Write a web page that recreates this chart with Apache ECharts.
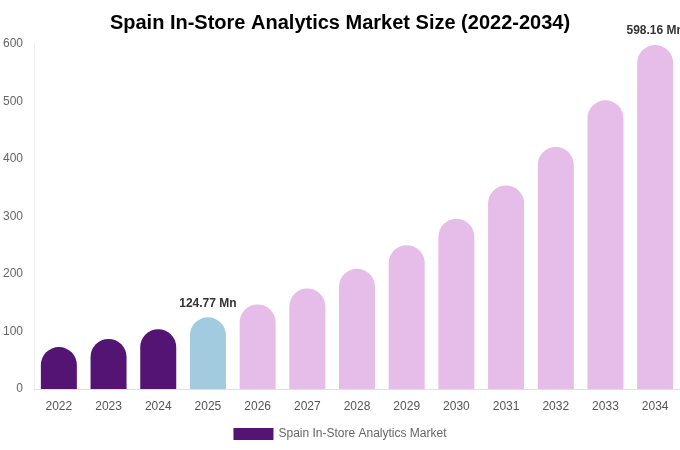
<!DOCTYPE html>
<html>
<head>
<meta charset="utf-8">
<script src="https://cdn.jsdelivr.net/npm/echarts@6/dist/echarts.min.js"></script>
<style>
  html, body { margin: 0; padding: 0; background: #fff; }
  #chart { width: 680px; height: 450px; }
</style>
</head>
<body>
<div id="chart"></div>
<script>
// 数据
const years = ['2022', '2023', '2024', '2025', '2026', '2027', '2028', '2029', '2030', '2031', '2032', '2033', '2034']
const marketSize = [73, 87, 104, 124.77, 147, 175, 209, 250, 296, 354, 421, 502, 598.16]
const yTicks = [0, 100, 200, 300, 400, 500, 600]
// 哪些柱子显示数值
const labelledYears = ['2025', '2034']

// 柱子颜色: 历史 / 基准年 / 预测
const barColor = (year) => {
  if (year < '2025') return '#541474'
  if (year === '2025') return '#a3cbe0'
  return '#e6bce8'
}

const myChart = echarts.init(document.querySelector('#chart'))
const option = {
  title: {
    text: 'Spain In-Store Analytics Market Size (2022-2034)',
    left: 'center',
    top: 8,
    textStyle: {
      fontFamily: 'Liberation Sans',
      fontSize: 20,
      fontWeight: 'bold',
      color: '#000'
    }
  },
  legend: {
    left: 'center',
    top: 423,
    itemWidth: 40,
    itemHeight: 12,
    icon: 'rect',
    textStyle: {
      fontFamily: 'Liberation Sans',
      fontSize: 12,
      color: '#666'
    },
    data: [{ name: 'Spain In-Store Analytics Market', itemStyle: { color: '#541474' } }]
  },
  grid: {
    left: 34,
    right: 0,
    top: 44,
    bottom: 61
  },
  xAxis: {
    type: 'category',
    data: years,
    axisLine: { lineStyle: { color: '#e0e0e0' } },
    axisTick: { show: false },
    axisLabel: {
      fontFamily: 'Liberation Sans',
      fontSize: 12,
      color: '#555',
      margin: 12
    }
  },
  yAxis: {
    type: 'value',
    min: yTicks[0],
    max: yTicks[yTicks.length - 1],
    interval: 100,
    axisLine: { show: true, lineStyle: { color: '#eeeeee' } },
    splitLine: { show: false },
    axisLabel: {
      fontFamily: 'Liberation Sans',
      fontSize: 12,
      color: '#666',
      margin: 11
    }
  },
  series: [
    {
      name: 'Spain In-Store Analytics Market',
      type: 'bar',
      barWidth: 36,
      data: marketSize.map((v, i) => ({
        value: v,
        itemStyle: {
          color: barColor(years[i]),
          borderRadius: [18, 18, 0, 0]
        },
        label: {
          show: labelledYears.includes(years[i]),
          position: 'top',
          distance: 8,
          formatter: p => p.value + ' Mn',
          fontFamily: 'Liberation Sans',
          fontSize: 12,
          fontWeight: 'bold',
          color: '#333'
        }
      }))
    }
  ]
}
myChart.setOption(option)
</script>
</body>
</html>
